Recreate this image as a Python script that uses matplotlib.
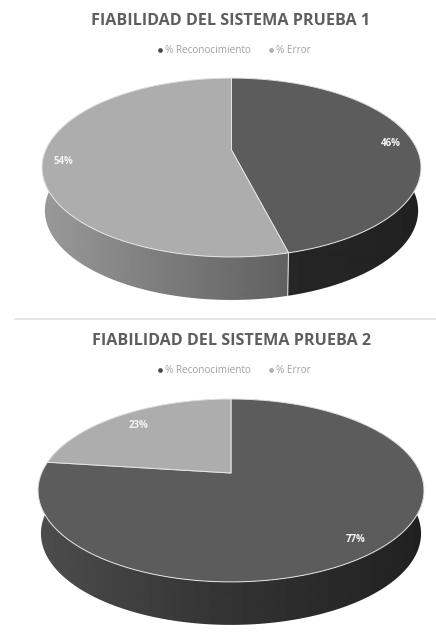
import numpy as np
import matplotlib
matplotlib.use("Agg")
import matplotlib.pyplot as plt
from matplotlib.patches import Polygon
from matplotlib.lines import Line2D

plt.rcParams['font.family'] = ['Open Sans', 'DejaVu Sans']

titles = ["FIABILIDAD DEL SISTEMA PRUEBA 1", "FIABILIDAD DEL SISTEMA PRUEBA 2"]
categories = ["% Reconocimiento", "% Error"]
values_1 = [46, 54]
values_2 = [77, 23]
labels_1 = ["46%", "54%"]
labels_2 = ["77%", "23%"]

TOP = ['#5c5c5c', '#adadad']
W, H = 436, 639


def project(theta, g):
    """theta clockwise from 12 o'clock on the disc -> pixel position with perspective."""
    u, v = np.sin(theta), np.cos(theta)
    w = 1 + g['k'] * v
    return g['cx'] + g['A'] * u / w, g['cy'] - g['B'] * v / w


def draw_pie(ax, values, labels, title, g):
    total = sum(values)
    edges = np.cumsum([0] + list(values)) / total * 2 * np.pi
    ramp_x = np.arange(0, W + 1)
    # side wall: a horizontal grey ramp clipped to the wall of each slice
    for i in range(len(values)):
        th = np.linspace(edges[i], edges[i + 1], 400)
        x, y = project(th, g)
        xb = g['cx'] + (x - g['cx']) * g['shrink']
        yb = y + g['depth']
        wall = Polygon(np.c_[np.r_[x, xb[::-1]], np.r_[y, yb[::-1]]], closed=True,
                       transform=ax.transData, facecolor='none', edgecolor='none')
        ax.add_patch(wall)
        ramp = np.interp(ramp_x, g['side'][i][0], g['side'][i][1])[None, :]
        im = ax.imshow(ramp, cmap='gray', vmin=0, vmax=1, extent=(0, W, g['h'], 0),
                       aspect='auto', interpolation='bilinear', zorder=2)
        im.set_clip_path(wall)
    # seam on the wall at a visible boundary
    for e in edges[:-1]:
        x, y = project(np.array([e]), g)
        if np.cos(e) < -0.2:
            ax.plot([x[0], g['cx'] + (x[0] - g['cx']) * g['shrink']], [y[0], y[0] + g['depth']],
                    color='#d8d8d8', lw=0.8, zorder=3)
    # top face
    for i in range(len(values)):
        th = np.linspace(edges[i], edges[i + 1], 300)
        x, y = project(th, g)
        px = np.r_[g['cx'], x]
        py = np.r_[g['cy'], y]
        ax.fill(px, py, facecolor=TOP[i], edgecolor='#e4e4e4', linewidth=0.7, joinstyle='round', zorder=4)
    for lab, (lx, ly) in zip(labels, g['label_xy']):
        ax.text(lx, ly, lab, color='#f4f4f4', fontsize=7.0, fontweight='bold',
                ha='center', va='center', zorder=5)
    ax.text(g['title_x'], 21, title, color='#5e5e5e', fontsize=11.6, fontweight='bold',
            ha='center', va='center')
    handles = [Line2D([], [], ls='', marker='o', ms=2.4, color=c) for c in ['#4a4a4a', '#b0b0b0']]
    ax.legend(handles, categories, ncol=2, frameon=False, loc='center',
              bbox_to_anchor=(g['leg_x'], 50.5), bbox_transform=ax.transData,
              fontsize=7.2, labelcolor='#a0a0a0', handletextpad=0.0, columnspacing=1.45,
              handlelength=1.0, borderpad=0)
    ax.set_xlim(0, W)
    ax.set_ylim(g['h'], 0)
    ax.set_aspect('auto')


geo_1 = dict(h=320, cx=231.5, cy=150, A=185.8, B=86, k=0.196, depth=43, shrink=0.985,
             side=[([288, 420], [0.15, 0.13]), ([45, 150, 287], [0.60, 0.50, 0.38])],
             label_xy=[(391, 143), (63, 161)], title_x=231, leg_x=233)
geo_2 = dict(h=319, cx=231, cy=153, A=189.4, B=88.1, k=0.191, depth=43, shrink=0.985,
             side=[([40, 230, 422], [0.30, 0.20, 0.13]), ([40, 230], [0.30, 0.30])],
             label_xy=[(356, 220), (139, 106)], title_x=231, leg_x=233)

fig = plt.figure(figsize=(W / 100, H / 100), dpi=100, facecolor='white')
ax1 = fig.add_axes([0, 1 - 320 / H, 1, 320 / H])
ax2 = fig.add_axes([0, 0, 1, 319 / H])
for ax in (ax1, ax2):
    ax.axis('off')

draw_pie(ax1, values_1, labels_1, titles[0], geo_1)
draw_pie(ax2, values_2, labels_2, titles[1], geo_2)
ax1.plot([15, 436], [318.5, 318.5], color='#e2e2e2', lw=1.2, clip_on=False)

fig.savefig('out.png', dpi=100, facecolor='white')
